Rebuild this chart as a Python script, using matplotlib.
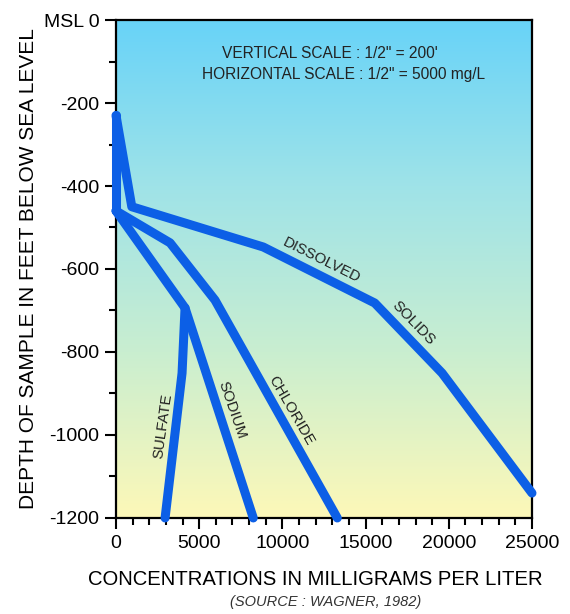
import numpy as np
import matplotlib.pyplot as plt
from matplotlib.colors import LinearSegmentedColormap
from matplotlib.ticker import MultipleLocator

plt.rcParams['font.family'] = ['Liberation Sans', 'DejaVu Sans']

# values (mg/L, feet)
solids_x = [0, 950, 8850, 15550, 19600, 25000]
solids_y = [-230, -450, -547, -682, -851, -1140]
trunk_x = [0, 0]
trunk_y = [-230, -460]
chloride_x = [0, 3250, 5950, 13300]
chloride_y = [-460, -537, -675, -1200]
sodium_x = [0, 4150, 8250]
sodium_y = [-460, -694, -1200]
sulfate_x = [4150, 3970, 2950]
sulfate_y = [-694, -851, -1200]

yticks = [0, -200, -400, -600, -800, -1000, -1200]
ytick_labels = ["MSL 0", "-200", "-400", "-600", "-800", "-1000", "-1200"]
xticks = [0, 5000, 10000, 15000, 20000, 25000]

blue = "#0c5fe6"

fig = plt.figure(figsize=(5.7, 6.14), dpi=100)
ax = fig.add_axes([0.2035, 0.1564, 0.7298, 0.811])

# background gradient
cmap = LinearSegmentedColormap.from_list("bg", ["#fdf8b8", "#c9eed0", "#9fe3e8", "#68d3f8"])
grad = np.linspace(0, 1, 256).reshape(-1, 1)
ax.imshow(grad, aspect="auto", cmap=cmap, origin="lower",
          extent=[0, 25000, -1200, 0], zorder=0)

lw = 6.5
for xs, ys in [(solids_x, solids_y), (trunk_x, trunk_y), (chloride_x, chloride_y),
               (sodium_x, sodium_y), (sulfate_x, sulfate_y)]:
    ax.plot(xs, ys, color=blue, linewidth=lw, solid_capstyle="round",
            solid_joinstyle="round", zorder=3, clip_on=False)

ax.set_xlim(0, 25000)
ax.set_ylim(-1200, 0)
ax.set_xticks(xticks)
ax.set_xticklabels([str(x) for x in xticks])
ax.set_yticks(yticks)
ax.set_yticklabels(ytick_labels)
ax.xaxis.set_minor_locator(MultipleLocator(1000))
ax.yaxis.set_minor_locator(MultipleLocator(100))
ax.tick_params(which="major", length=8, width=1.5, labelsize=14, pad=4)
ax.tick_params(which="minor", length=5, width=1.5)
for s in ax.spines.values():
    s.set_linewidth(1.6)

ax.set_xlabel("CONCENTRATIONS IN MILLIGRAMS PER LITER", fontsize=14.6)
ax.xaxis.set_label_coords(0.48, -0.105)
ax.set_ylabel("DEPTH OF SAMPLE IN FEET BELOW SEA LEVEL", fontsize=15, labelpad=4)
fig.text(0.572, 0.008, "(SOURCE : WAGNER, 1982)", fontsize=10.5, style="italic",
         ha="center", va="bottom", color="#333333")

ax.text(12860, -80, "VERTICAL SCALE : 1/2\" = 200'", fontsize=11.2,
        ha="center", va="center", color="#222222")
ax.text(13700, -132, "HORIZONTAL SCALE : 1/2\" = 5000 mg/L", fontsize=11.2,
        ha="center", va="center", color="#222222")

lab = dict(fontsize=10.8, color="#222222", ha="center", va="center", zorder=4)
ax.text(12380, -578, "DISSOLVED", rotation=-26.5, **lab)
ax.text(17850, -730, "SOLIDS", rotation=-46, **lab)
ax.text(10520, -942, "CHLORIDE", rotation=-60, **lab)
ax.text(6970, -940, "SODIUM", rotation=-71, **lab)
ax.text(2830, -978, "SULFATE", rotation=82, **lab)

fig.savefig("out.png", dpi=100)
